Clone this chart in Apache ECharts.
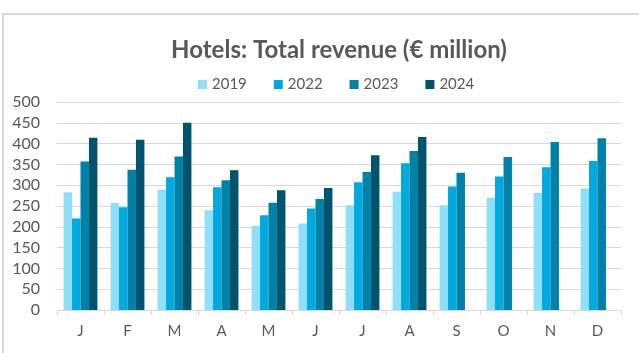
<!DOCTYPE html>
<html>
<head>
<meta charset="utf-8">
<script src="https://cdn.jsdelivr.net/npm/echarts@6/dist/echarts.min.js"></script>
<style>
  html, body { margin: 0; padding: 0; background: #ffffff; }
  #chart { width: 639px; height: 353px; }
</style>
</head>
<body>
<div id="chart"></div>
<script>
// Monthly total hotel revenue, € million
const months = ['J', 'F', 'M', 'A', 'M', 'J', 'J', 'A', 'S', 'O', 'N', 'D'];
const rev2019 = [283, 257, 289, 240, 202, 208, 252, 284, 252, 270, 281, 292];
const rev2022 = [220, 247, 319, 295, 228, 244, 307, 353, 297, 321, 343, 358];
const rev2023 = [357, 337, 369, 312, 258, 267, 332, 382, 330, 368, 404, 413];
const rev2024 = [414, 409, 450, 336, 288, 293, 372, 416, null, null, null, null];
const yTicks = { min: 0, max: 500, step: 50 };

const seriesDefs = [
  { name: '2019', data: rev2019, color: '#8ee0fa' },
  { name: '2022', data: rev2022, color: '#00a9df' },
  { name: '2023', data: rev2023, color: '#0081a7' },
  { name: '2024', data: rev2024, color: '#00546e' }
];

const textColor = '#595959';
const fontFamily = 'Lato, "Open Sans", sans-serif';

const chart = echarts.init(document.getElementById('chart'), null, { renderer: 'canvas' });
chart.setOption({
  animation: false,
  backgroundColor: '#ffffff',
  textStyle: { fontFamily: fontFamily },
  graphic: [{
    type: 'polyline',
    shape: { points: [[3, 400], [3, 14], [700, 14]] },
    style: { stroke: '#d9d9d9', lineWidth: 2, fill: null },
    silent: true
  }],
  title: {
    text: 'Hotels: Total revenue (€ million)',
    left: 334,
    textAlign: 'center',
    top: 33,
    textStyle: { color: textColor, fontSize: 24, fontWeight: 'bold', fontFamily: fontFamily }
  },
  legend: {
    top: 72,
    left: 193,
    itemWidth: 9,
    itemHeight: 9,
    itemGap: 27,
    icon: 'rect',
    textStyle: { color: textColor, fontSize: 15, padding: [0, 0, 0, 0] },
    data: seriesDefs.map(s => s.name)
  },
  grid: { left: 57, right: 18, top: 102, bottom: 43, containLabel: false },
  xAxis: {
    type: 'category',
    data: months,
    axisLine: { lineStyle: { color: '#d9d9d9', width: 1 } },
    axisTick: { show: true, length: 5, lineStyle: { color: '#d9d9d9' } },
    axisLabel: { color: textColor, fontSize: 15, margin: 14 }
  },
  yAxis: {
    type: 'value',
    min: yTicks.min,
    max: yTicks.max,
    interval: yTicks.step,
    axisLine: { show: false },
    axisTick: { show: false },
    axisLabel: { color: textColor, fontSize: 16, margin: 17 },
    splitLine: { lineStyle: { color: '#d9d9d9', width: 1 } }
  },
  series: seriesDefs.map(s => ({
    name: s.name,
    type: 'bar',
    data: s.data,
    barGap: '0%',
    barCategoryGap: '28%',
    itemStyle: { color: s.color },
    emphasis: { disabled: true }
  }))
});
</script>
</body>
</html>
